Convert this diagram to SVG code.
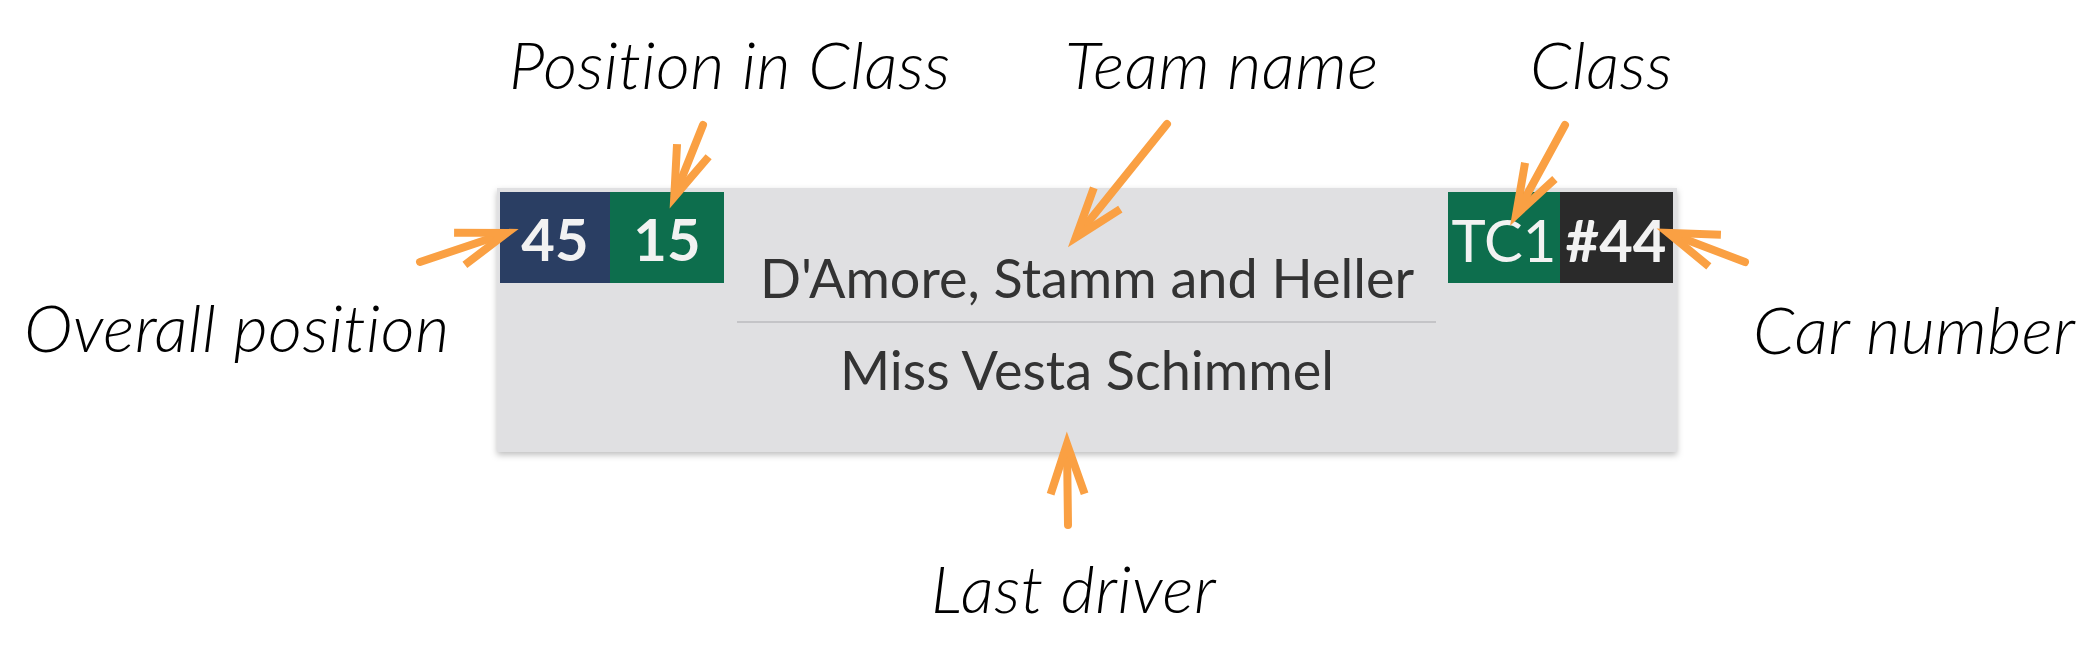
<svg xmlns="http://www.w3.org/2000/svg" width="2095" height="649" viewBox="0 0 2095 649">
  <style>
    .label { font-family: Lato, "Open Sans", sans-serif; font-style: italic; font-weight: 300; font-size: 66px; letter-spacing: 0.5px; fill: #000; }
    .badge-num { font-family: Lato, "Open Sans", sans-serif; font-weight: 700; font-size: 58px; fill: #F2F2F2; text-anchor: middle; }
    .badge-cls { font-family: Lato, "Open Sans", sans-serif; font-weight: 400; font-size: 58px; fill: #F2F2F2; text-anchor: middle; }
    .card-text { font-family: Lato, "Open Sans", sans-serif; font-weight: 400; font-size: 54px; fill: #333333; text-anchor: middle; }
    .arrow { fill: none; stroke: #FAA043; stroke-width: 8; stroke-linecap: round; marker-end: url(#head); }
  </style>
  <defs>
    <marker id="head" markerUnits="userSpaceOnUse" orient="auto" refX="0" refY="0" markerWidth="120" markerHeight="120" viewBox="-70 -60 120 120" overflow="visible">
      <path d="M -48,-17 L 2,0 L -48,17" fill="none" stroke="#FAA043" stroke-width="8" stroke-linejoin="miter" stroke-miterlimit="10" stroke-linecap="butt"/>
    </marker>
    <filter id="shadow" x="-5%" y="-10%" width="110%" height="125%">
      <feDropShadow dx="0" dy="3" stdDeviation="3" flood-color="#000" flood-opacity="0.25"/>
    </filter>
  </defs>

  <g id="card">
    <rect x="497" y="188" width="1180" height="264" fill="#E0E0E2" filter="url(#shadow)"/>
    <line x1="737" y1="322" x2="1436" y2="322" stroke="#C4C4C7" stroke-width="2"/>
    <text class="card-text" x="1087" y="298">D'Amore, Stamm and Heller</text>
    <text class="card-text" x="1087" y="390">Miss Vesta Schimmel</text>
  </g>

  <g id="badge-overall">
    <rect x="500" y="192" width="110" height="91" fill="#2A3E63"/>
    <text class="badge-num" x="555" y="261">45</text>
  </g>
  <g id="badge-class-pos">
    <rect x="610" y="192" width="114" height="91" fill="#0D6E4D"/>
    <text class="badge-num" x="667" y="261">15</text>
  </g>
  <g id="badge-class">
    <rect x="1448" y="192" width="112" height="91" fill="#0D6E4D"/>
    <text class="badge-cls" x="1504" y="262">TC1</text>
  </g>
  <g id="badge-car">
    <rect x="1560" y="192" width="113" height="91" fill="#2A2A2A"/>
    <text class="badge-num" x="1616" y="262">#44</text>
  </g>

  <g id="label-overall"><text class="label" x="24" y="352">Overall position</text></g>
  <g id="label-posclass"><text class="label" x="509" y="89">Position in Class</text></g>
  <g id="label-team"><text class="label" x="1065" y="89">Team name</text></g>
  <g id="label-class"><text class="label" x="1530" y="89">Class</text></g>
  <g id="label-car"><text class="label" x="1753" y="354">Car number</text></g>
  <g id="label-driver"><text class="label" x="931" y="613">Last driver</text></g>

  <g id="connectors">
    <path class="arrow" d="M 420,262 L 505,233.5"/>
    <path class="arrow" d="M 703,125 L 675,195"/>
    <path class="arrow" d="M 1167,124 L 1077,236"/>
    <path class="arrow" d="M 1565,125 L 1517,213"/>
    <path class="arrow" d="M 1745,262 L 1670,233.5"/>
    <path class="arrow" d="M 1068,525 L 1067,446"/>
  </g>
</svg>
